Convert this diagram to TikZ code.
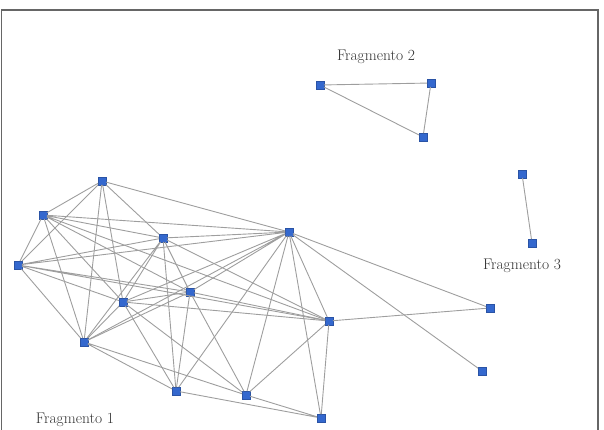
\documentclass[tikz,border=0pt]{standalone}
\usepackage{xcolor}
\usepackage{tikz}
\usetikzlibrary{positioning}
\definecolor{nodeblue}{RGB}{52,104,206}
\definecolor{edgegray}{RGB}{158,158,158}

\begin{document}
\begin{tikzpicture}[x=1pt,y=-1pt,
 vert/.style={draw=nodeblue!80!black,fill=nodeblue,minimum size=7.5pt,inner sep=0pt},
 edge/.style={draw=edgegray,line width=0.9pt},
 frag/.style={font=\fontsize{15.5}{17}\selectfont,text=black!80},
 frame/.style={draw=black!60,line width=1.3pt}]
\useasboundingbox (0,0) rectangle (604,429);
\draw[frame] (1.5,432)--(1.5,10)--(598,10)--(598,432);
% fragment 1
\node[vert] (a1) at (102,181) {}; \node[vert] (a2) at (43,215) {};
\node[vert] (a3) at (18,265) {}; \node[vert] (a4) at (163,238) {};
\node[vert] (a5) at (289,232) {}; \node[vert] (a6) at (123,302) {};
\node[vert] (a7) at (190,292) {}; \node[vert] (a8) at (84,342) {};
\node[vert] (a9) at (329,321) {}; \node[vert] (a10) at (176,391) {};
\node[vert] (a11) at (246,395) {}; \node[vert] (a12) at (321,418) {};
\node[vert] (a13) at (490,308) {}; \node[vert] (a14) at (482,371) {};
% fragment 2
\node[vert] (b1) at (320,85) {}; \node[vert] (b2) at (431,83) {};
\node[vert] (b3) at (423,137) {};
% fragment 3
\node[vert] (c1) at (522,174) {}; \node[vert] (c2) at (532,243) {};
\node[frag] (lab1) at (75,420) {Fragmento 1};
\node[frag] (lab2) at (376,57) {Fragmento 2};
\node[frag] (lab3) at (522,266) {Fragmento 3};
\draw[edge] (a1)--(a2) (a1)--(a3) (a1)--(a4) (a1)--(a5) (a1)--(a6) (a1)--(a8);
\draw[edge] (a2)--(a3) (a2)--(a4) (a2)--(a5) (a2)--(a7) (a2)--(a9) (a2)--(a6) (a2)--(a8);
\draw[edge] (a3)--(a4) (a3)--(a5) (a3)--(a7) (a3)--(a9) (a3)--(a6) (a3)--(a8);
\draw[edge] (a4)--(a5) (a4)--(a7) (a4)--(a6) (a4)--(a8) (a4)--(a10) (a4)--(a9);
\draw[edge] (a5)--(a6) (a5)--(a7) (a5)--(a8) (a5)--(a9) (a5)--(a10) (a5)--(a11);
\draw[edge] (a5)--(a12) (a5)--(a13) (a5)--(a14);
\draw[edge] (a6)--(a7) (a6)--(a8) (a6)--(a9) (a6)--(a10) (a6)--(a11);
\draw[edge] (a7)--(a8) (a7)--(a9) (a7)--(a10) (a7)--(a11);
\draw[edge] (a8)--(a10) (a8)--(a11);
\draw[edge] (a9)--(a11) (a9)--(a12) (a9)--(a13);
\draw[edge] (a10)--(a12) (a11)--(a12);
\draw[edge] (b1)--(b2) (b2)--(b3) (b1)--(b3);
\draw[edge] (c1)--(c2);
\end{tikzpicture}
\end{document}
